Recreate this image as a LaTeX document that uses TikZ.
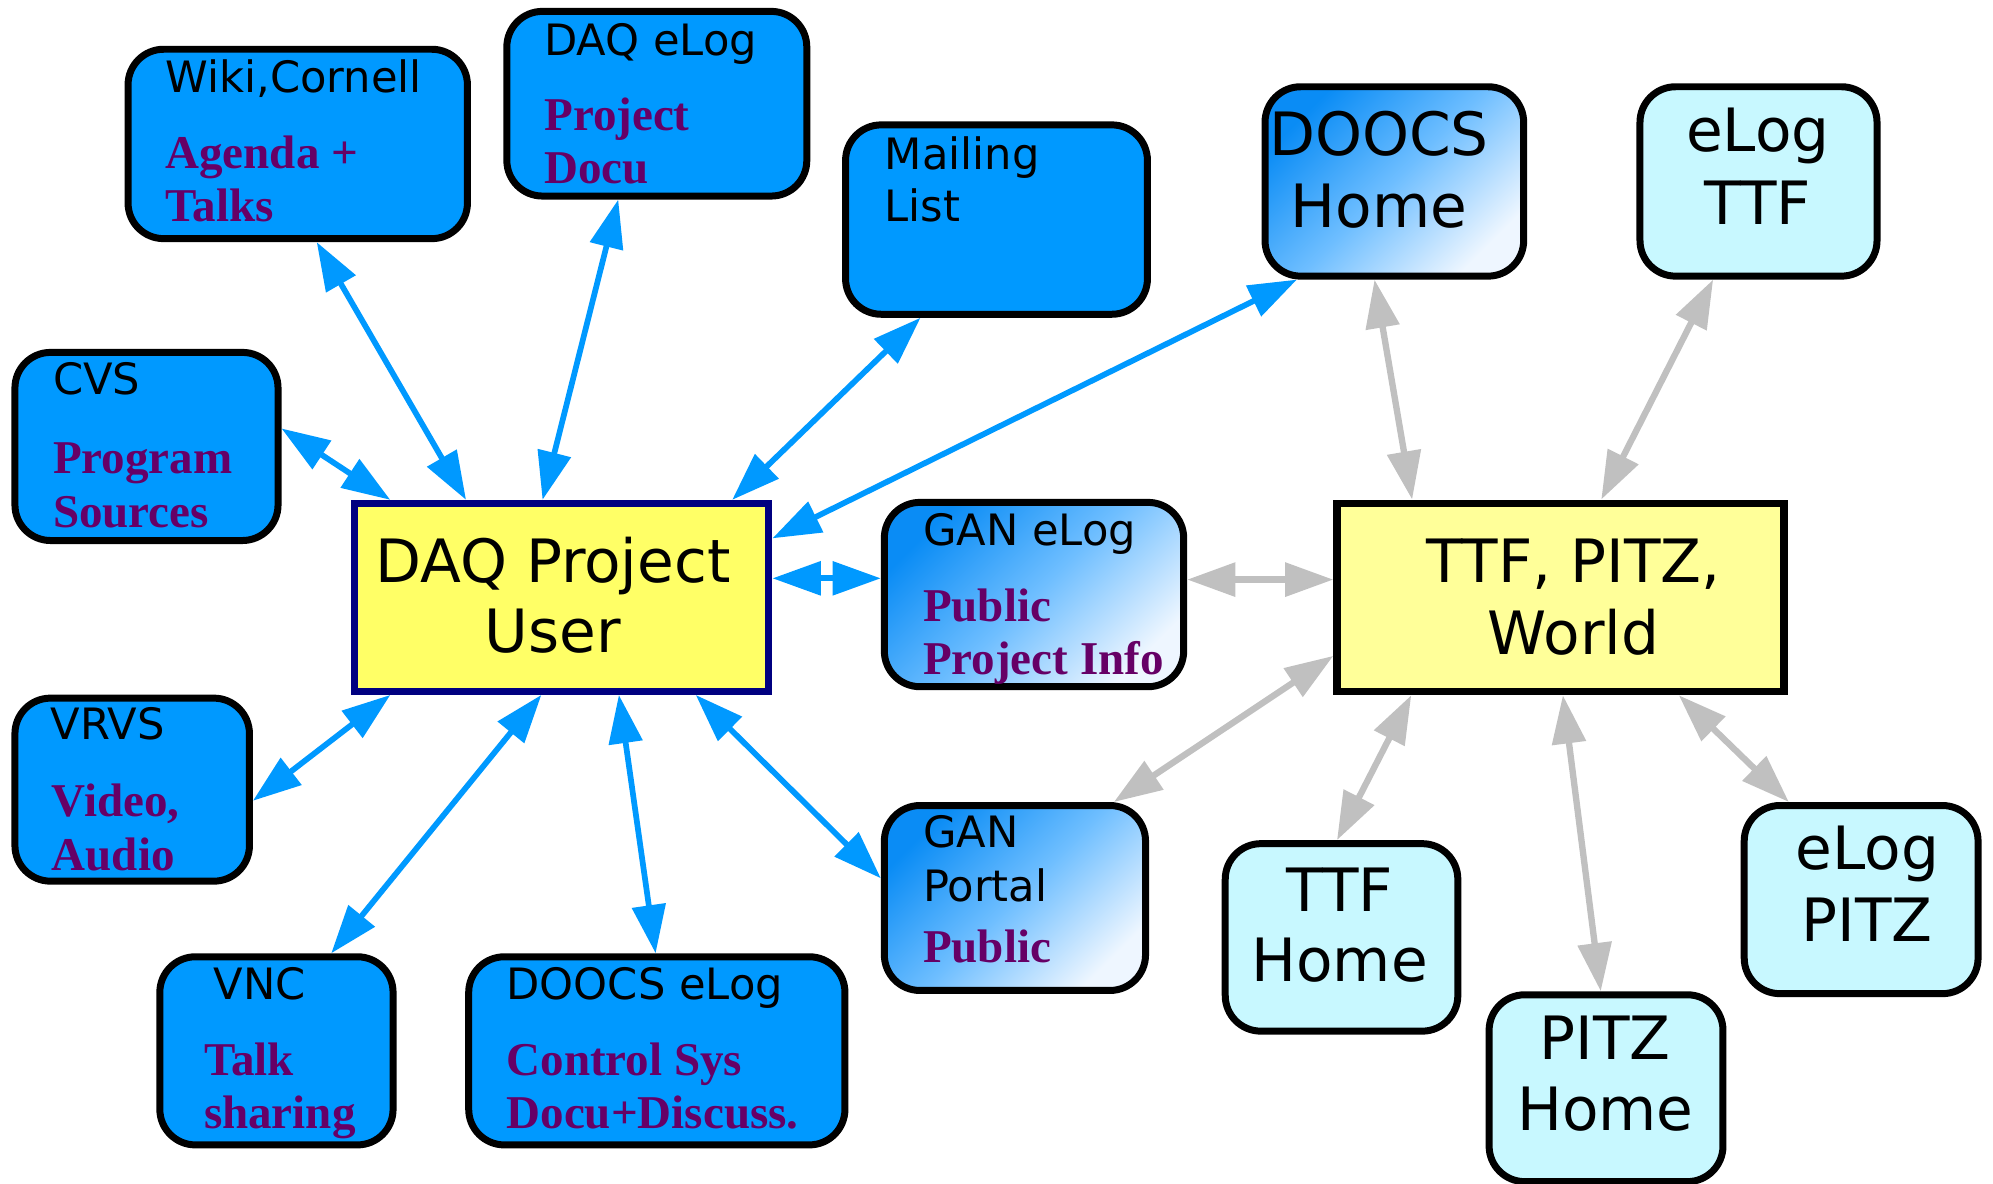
\documentclass[tikz,border=0pt]{standalone}
\usepackage{fontspec}
\setmainfont{DejaVu Sans}
\newfontfamily\serf{Liberation Serif}
\usetikzlibrary{arrows.meta,calc}
\definecolor{boxblue}{HTML}{0099FF}
\definecolor{lcyan}{HTML}{C8F8FF}
\definecolor{daqyel}{HTML}{FFFF66}
\definecolor{ttfyel}{HTML}{FFFF99}
\definecolor{navyb}{HTML}{000080}
\definecolor{purp}{HTML}{660066}
\definecolor{arrgray}{HTML}{C0C0C0}
\definecolor{gradA}{RGB}{10,140,245}
\definecolor{gradB}{RGB}{110,190,255}
\definecolor{gradC}{RGB}{238,246,255}
\begin{document}
\begin{tikzpicture}[x=1pt,y=-1pt,
  rbox/.style={draw=black, line width=5.5pt, rounded corners=28pt, anchor=north west, inner sep=0pt},
  bluebox/.style={rbox, fill=boxblue},
  cyanbox/.style={rbox, fill=lcyan},
  gradbox/.style={rbox, top color=gradA, bottom color=gradC, middle color=gradB, shading angle=45},
  sm/.style={anchor=base west, inner sep=0pt, font=\fontsize{34}{40}\selectfont},
  lg/.style={anchor=base, inner sep=0pt, font=\fontsize{47}{55}\selectfont},
  pu/.style={anchor=base west, inner sep=0pt, text=purp, font=\fontsize{37}{42}\serf\bfseries},
  tip/.tip={Triangle[length=38pt,width=26pt]},
  barr/.style={draw=boxblue, line width=4.5pt, tip-tip},
  garr/.style={draw=arrgray, line width=5pt, tip-tip}
]
\useasboundingbox (0,0) rectangle (1568,931);

% boxes
\node[bluebox, minimum width=267pt, minimum height=149pt] (wiki) at (98,36) {};
\node[bluebox, minimum width=236pt, minimum height=145.3pt] (daqelog) at (396,6.2) {};
\node[bluebox, minimum width=237.5pt, minimum height=149pt] (mail) at (662.5,95.5) {};
\node[gradbox, minimum width=203.5pt, minimum height=149pt] (doocshome) at (992.5,65.5) {};
\node[cyanbox, minimum width=186.5pt, minimum height=149pt] (elogttf) at (1287.5,65.5) {};
\node[bluebox, minimum width=207pt, minimum height=148pt] (cvs) at (9,274.5) {};
\node[draw=navyb, fill=daqyel, line width=5.5pt, anchor=north west, inner sep=0pt,
      minimum width=326pt, minimum height=148pt] (daq) at (276.25,393.25) {};
\node[gradbox, minimum width=235.5pt, minimum height=145pt] (ganelog) at (693,392.5) {};
\node[draw=black, fill=ttfyel, line width=6pt, anchor=north west, inner sep=0pt,
      minimum width=351.5pt, minimum height=148pt] (ttf) at (1049,393) {};
\node[bluebox, minimum width=184.5pt, minimum height=144pt] (vrvs) at (9,546.5) {};
\node[gradbox, minimum width=205.5pt, minimum height=145.5pt] (ganportal) at (693,631) {};
\node[cyanbox, minimum width=183pt, minimum height=147.5pt] (ttfhome) at (961.2,661) {};
\node[cyanbox, minimum width=184pt, minimum height=148pt] (elogpitz) at (1369.5,631) {};
\node[cyanbox, minimum width=184pt, minimum height=147pt] (pitzhome) at (1168.8,779.9) {};
\node[bluebox, minimum width=183.5pt, minimum height=148pt] (vnc) at (123,750) {};
\node[bluebox, minimum width=296pt, minimum height=148pt] (doocselog) at (366,750) {};

% blue connectors
\draw[barr] ([shift={(151.2,0)}]wiki.south west) -- ([shift={(90.4,0)}]daq.north west);
\draw[barr] ([shift={(90.4,0)}]daqelog.south west) -- ([shift={(150.6,0)}]daq.north west);
\draw[barr] ([shift={(0,62.6)}]cvs.north east) -- ([shift={(30.8,0)}]daq.north west);
\draw[barr] ([shift={(61.7,0)}]mail.south west) -- ([shift={(299.8,0)}]daq.north west);
\draw[barr] ([shift={(27.8,0)}]doocshome.south west) -- ([shift={(0,30.25)}]daq.north east);
\draw[barr] ([shift={(0,61.75)}]daq.north east) -- ([shift={(0,62.5)}]ganelog.north west);
\draw[barr] ([shift={(0,83.5)}]vrvs.north east) -- ([shift={(30.85,0)}]daq.south west);
\draw[barr] ([shift={(137.6,0)}]vnc.north west) -- ([shift={(149.65,0)}]daq.south west);
\draw[barr] ([shift={(149.8,0)}]doocselog.north west) -- ([shift={(210.65,0)}]daq.south west);
\draw[barr] ([shift={(0,60)}]ganportal.north west) -- ([shift={(271.15,0)}]daq.south west);

% gray connectors
\draw[garr] ([shift={(0,63.5)}]ganelog.north east) -- ([shift={(0,63)}]ttf.north west);
\draw[garr] ([shift={(183.3,0)}]ganportal.north west) -- ([shift={(0,123)}]ttf.north west);
\draw[garr] ([shift={(90.7,0)}]ttfhome.north west) -- ([shift={(61.3,0)}]ttf.south west);
\draw[garr] ([shift={(90.6,0)}]pitzhome.north west) -- ([shift={(180.6,0)}]ttf.south west);
\draw[garr] ([shift={(37.9,0)}]elogpitz.north west) -- ([shift={(271.8,0)}]ttf.south west);
\draw[garr] ([shift={(88.9,0)}]doocshome.south west) -- ([shift={(62,0)}]ttf.north west);
\draw[garr] ([shift={(60.3,0)}]elogttf.south west) -- ([shift={(210.8,0)}]ttf.north west);

% labels
\node[sm] (wikiA) at (130,72.5) {Wiki,Cornell};
\node[pu] (wikiB) at (130,132.5) {Agenda +};
\node[pu] (wikiC) at (130,174.6) {Talks};
\node[sm] (daqelogA) at (428,43.6) {DAQ eLog};
\node[pu] (daqelogB) at (428,102.6) {Project};
\node[pu] (daqelogC) at (428,144.7) {Docu};
\node[sm] (mailA) at (696,133.3) {Mailing};
\node[sm] (mailB) at (696,174) {List};
\node[lg] (doocshomeA) at (1085,122.7) {DOOCS};
\node[lg] (doocshomeB) at (1085,178.8) {Home};
\node[lg] (elogttfA) at (1383,119.5) {eLog};
\node[lg] (elogttfB) at (1383,176.6) {TTF};
\node[sm] (cvsA) at (41.5,310) {CVS};
\node[pu] (cvsB) at (41.5,372.7) {Program};
\node[pu] (cvsC) at (41.5,414.8) {Sources};
\node[lg] (daqA) at (435,458) {DAQ Project};
\node[lg] (daqB) at (435,513.5) {User};
\node[sm] (ganelogA) at (726,428.8) {GAN eLog};
\node[pu] (ganelogB) at (726,488.8) {Public};
\node[pu] (ganelogC) at (726,531) {Project Info};
\node[lg] (ttfA) at (1238,458) {TTF, PITZ,};
\node[lg] (ttfB) at (1238,514.6) {World};
\node[sm] (vrvsA) at (39.7,581.6) {VRVS};
\node[pu] (vrvsB) at (40.6,642.3) {Video,};
\node[pu] (vrvsC) at (40.6,684.5) {Audio};
\node[sm] (ganportalA) at (726,667) {GAN};
\node[sm] (ganportalB) at (726,709.3) {Portal};
\node[pu] (ganportalC) at (726,757) {Public};
\node[lg] (ttfhomeA) at (1054,717.4) {TTF};
\node[lg] (ttfhomeB) at (1054,772.2) {Home};
\node[lg] (elogpitzA) at (1469,683.9) {eLog};
\node[lg] (elogpitzB) at (1469,741) {PITZ};
\node[lg] (pitzhomeA) at (1263,833.8) {PITZ};
\node[lg] (pitzhomeB) at (1263,889.2) {Home};
\node[sm] (vncA) at (168,786.2) {VNC};
\node[pu] (vncB) at (160.3,845.8) {Talk};
\node[pu] (vncC) at (160.3,887.5) {sharing};
\node[sm] (doocselogA) at (398.4,786.2) {DOOCS eLog};
\node[pu] (doocselogB) at (398.4,845.8) {Control Sys};
\node[pu] (doocselogC) at (398.4,887.5) {Docu+Discuss.};
\end{tikzpicture}
\end{document}
